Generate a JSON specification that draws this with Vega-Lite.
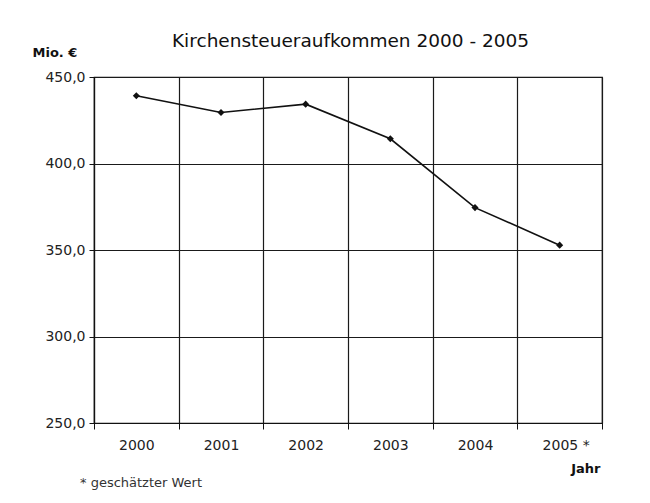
{
  "$schema": "https://vega.github.io/schema/vega-lite/v6.json",
  "width": 508,
  "height": 346,
  "autosize": {"type": "none"},
  "padding": {"left": 94, "top": 77, "right": 48, "bottom": 80},
  "background": "white",
  "title": {
    "text": "* geschätzter Wert",
    "orient": "bottom",
    "anchor": "start",
    "frame": "group",
    "font": "DejaVu Sans",
    "fontSize": 13,
    "fontWeight": "normal",
    "color": "#333",
    "dx": -14,
    "offset": 2
  },
  "data": {
    "values": [
      {"Jahr": "2000", "Wert": 439.2},
      {"Jahr": "2001", "Wert": 429.5},
      {"Jahr": "2002", "Wert": 434.3},
      {"Jahr": "2003", "Wert": 414.3},
      {"Jahr": "2004", "Wert": 374.5},
      {"Jahr": "2005", "Wert": 352.8}
    ]
  },
  "layer": [
    {
      "mark": {"type": "line", "color": "#111", "strokeWidth": 1.6},
      "encoding": {
        "x": {
          "field": "Jahr", "type": "ordinal", "bandPosition": 0.5,
          "scale": {"type": "band", "paddingInner": 0, "paddingOuter": 0},
          "axis": {
            "orient": "bottom",
            "tickBand": "extent",
            "grid": true,
            "gridColor": "#1a1a1a",
            "gridWidth": 1.2,
            "gridOpacity": 1,
            "domainColor": "#111",
            "domainWidth": 1.2,
            "tickColor": "#111",
            "tickSize": 6,
            "labelAngle": 0,
            "labelPadding": 9,
            "labelFont": "DejaVu Sans",
            "labelFontSize": 14,
            "labelColor": "#222",
            "labelExpr": "datum.value == '2005' ? '2005\u00a0*' : datum.value",
            "labelOffset": {"condition": {"test": "datum.value == '2005'", "value": 6}, "value": 0},
            "title": "Jahr",
            "titleFont": "DejaVu Sans",
            "titleFontSize": 13,
            "titleFontWeight": "bold",
            "titleColor": "#111",
            "titleAlign": "right",
            "titleBaseline": "middle",
            "titleAngle": 0,
            "titleX": 506,
            "titleY": 45
          }
        },
        "y": {
          "field": "Wert", "type": "quantitative",
          "scale": {"domain": [250, 450], "nice": false, "zero": false},
          "axis": {
            "values": [250, 300, 350, 400, 450],
            "grid": true,
            "gridColor": "#1a1a1a",
            "gridWidth": 1.2,
            "gridOpacity": 1,
            "domainColor": "#111",
            "domainWidth": 1.2,
            "tickColor": "#111",
            "tickSize": 5,
            "labelPadding": 4,
            "labelFont": "DejaVu Sans",
            "labelFontSize": 14,
            "labelColor": "#222",
            "labelExpr": "replace(format(datum.value, '.1f'), '.', ',')",
            "title": "Mio. €",
            "titleFont": "DejaVu Sans",
            "titleFontSize": 13,
            "titleFontWeight": "bold",
            "titleColor": "#111",
            "titleAngle": 0,
            "titleAlign": "left",
            "titleBaseline": "middle",
            "titleX": -62,
            "titleY": -25
          }
        }
      }
    },
    {
      "mark": {"type": "point", "shape": "diamond", "filled": true, "color": "#111", "size": 50, "opacity": 1},
      "encoding": {
        "x": {
          "field": "Jahr", "type": "ordinal", "bandPosition": 0.5,
          "scale": {"type": "band", "paddingInner": 0, "paddingOuter": 0},
          "axis": {
            "orient": "top",
            "grid": false,
            "labels": false,
            "ticks": false,
            "domain": false,
            "title": "Kirchensteueraufkommen 2000 - 2005",
            "titleFont": "DejaVu Sans",
            "titleFontSize": 18.5,
            "titleFontWeight": "normal",
            "titleColor": "#111",
            "titleAlign": "center",
            "titleBaseline": "middle",
            "titleX": 256,
            "titleY": -37
          }
        },
        "y": {"field": "Wert", "type": "quantitative"}
      }
    }
  ],
  "resolve": {"axis": {"x": "independent"}},
  "config": {
    "view": {"stroke": "#111", "strokeWidth": 1.2},
    "font": "DejaVu Sans"
  }
}
